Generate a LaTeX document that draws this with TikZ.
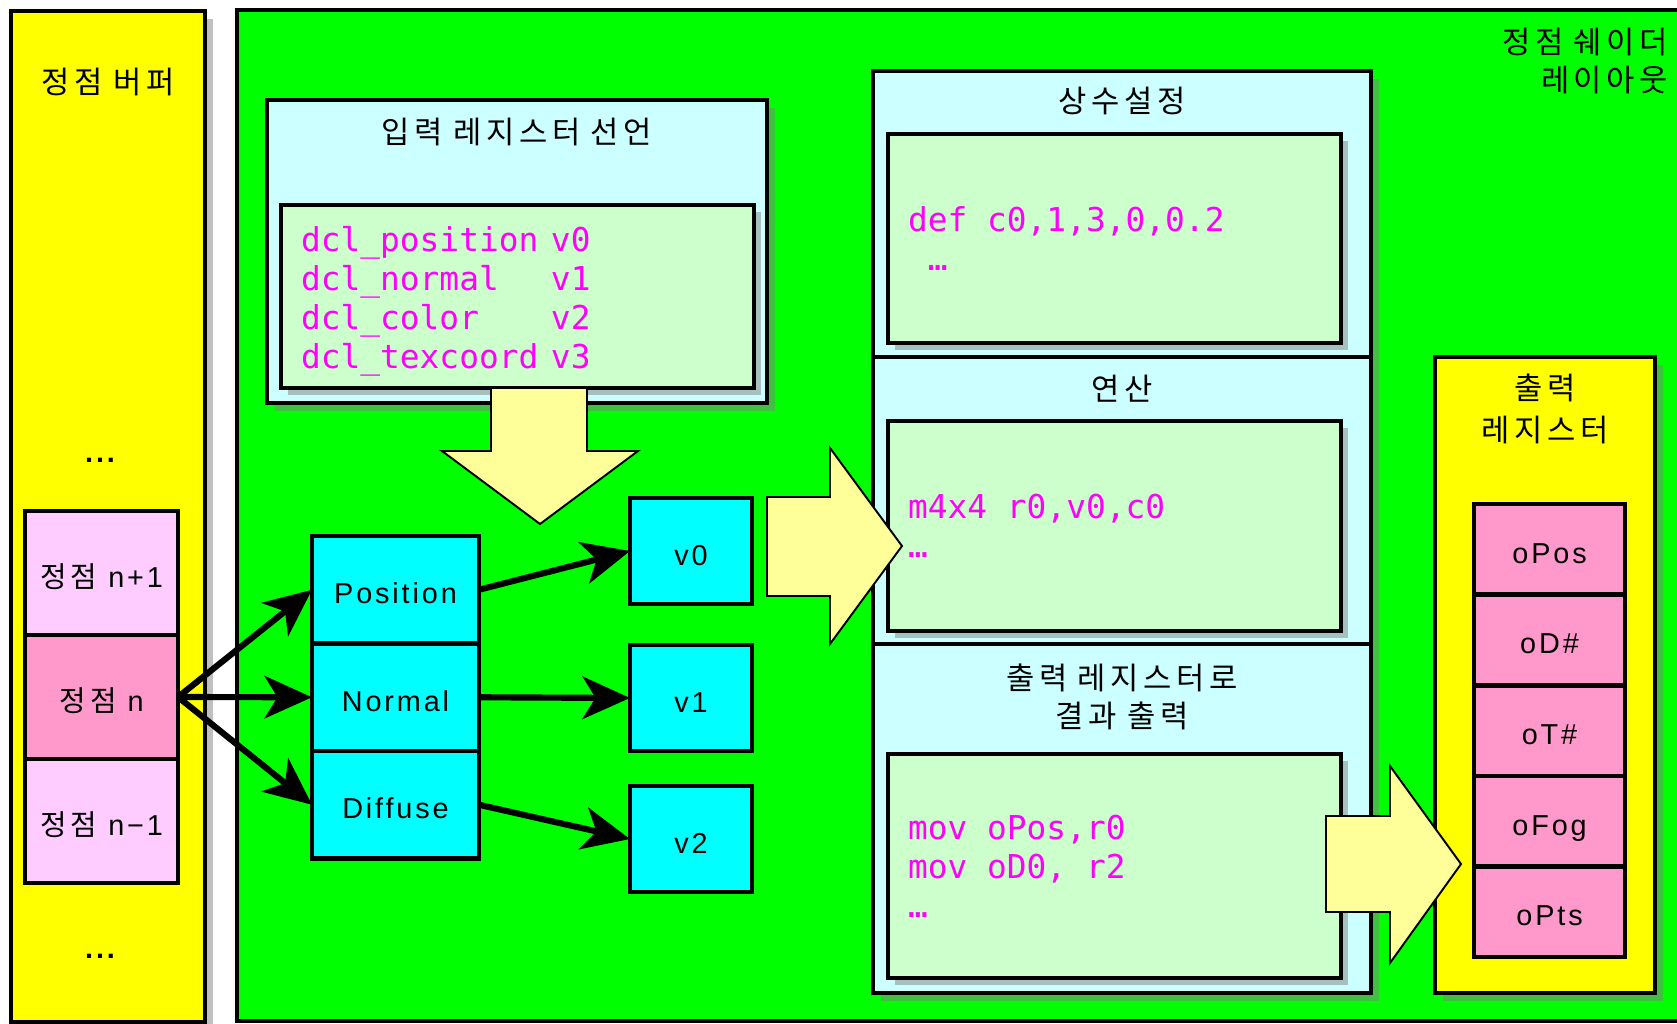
\documentclass[tikz,border=0pt]{standalone}
\usepackage{fontspec}
\setmainfont{Liberation Sans}[LetterSpace=10]
\newfontfamily\krfont{Noto Sans CJK KR}[WordSpace=1.5]
\newfontfamily\codefont{DejaVu Sans Mono}
\usetikzlibrary{positioning,shadows,arrows.meta}

% a little tracking between Hangul syllables
\XeTeXinterchartokenstate=1
\newXeTeXintercharclass\hangulclass
\count255="AC00
\loop
  \XeTeXcharclass\count255=\hangulclass
  \ifnum\count255<"D7A3 \advance\count255 by 1
\repeat
\XeTeXinterchartoks\hangulclass\hangulclass={\kern0.15em}

% one full character cell of the code font
\newcommand\cgap{\hphantom{0}}

\definecolor{vsgreen}{HTML}{00FF00}
\definecolor{bufyellow}{HTML}{FFFF00}
\definecolor{boxcyan}{HTML}{CCFFFF}
\definecolor{codegreen}{HTML}{CCFFCC}
\definecolor{regcyan}{HTML}{00FFFF}
\definecolor{vtxpink}{HTML}{FFCCFF}
\definecolor{curpink}{HTML}{FF99CC}
\definecolor{arrowfill}{HTML}{FFFF99}
\definecolor{shgreen}{HTML}{40BF40}
\definecolor{shblue}{HTML}{A6BFBF}
\definecolor{shgrey}{HTML}{C0C0C0}
\definecolor{codepink}{HTML}{FF00FF}

\begin{document}
\begin{tikzpicture}[x=0.2mm, y=-0.2mm,
  every node/.style={inner sep=0pt, outer sep=0pt},
  txt/.style={font=\fontsize{16.4}{22}\selectfont, align=center},
  ktxt/.style={align=center, font=\krfont\fontsize{17.5}{22}\selectfont},
  panel/.style={draw, line width=2.6pt},
  shadowed/.style={drop shadow={shadow xshift=1.6mm, shadow yshift=-1.6mm, fill=#1, opacity=1}},
  stage/.style={panel, fill=boxcyan, shadowed=shgreen, anchor=north west, minimum width=99.6mm},
  codebox/.style={draw, line width=2.1pt, fill=codegreen, text=codepink,
    drop shadow={shadow xshift=1.4mm, shadow yshift=-1.4mm, fill=shblue, opacity=1},
    font=\codefont\fontsize{18.7}{22.3}\selectfont, align=left, inner xsep=4mm,
    text width=82.6mm, anchor=north west},
  cell/.style={panel, txt, text height=17.6pt, text depth=1.6pt},
  vtx/.style={cell, minimum width=30.6mm, minimum height=24.8mm},
  attr/.style={cell, fill=regcyan, minimum width=33.4mm, minimum height=21.5mm},
  reg/.style={cell, fill=regcyan, minimum width=24.4mm, minimum height=21.2mm},
  oslot/.style={cell, fill=curpink, minimum width=30.2mm, minimum height=18.12mm},
  link/.style={line width=3.5pt, -{Stealth[length=9.5mm, width=8.5mm, inset=2.6mm]}},
  blockarrow/.style={draw, line width=1.1pt, fill=arrowfill, line join=miter}]

\useasboundingbox (0,0) rectangle (1677,1023);
\clip (0,0) rectangle (1677,1023);

% vertex buffer
\node[panel, fill=bufyellow, shadowed=shgrey, anchor=north west,
      minimum width=38.8mm, minimum height=202.2mm] (vb) at (11,11) {};
\node[ktxt] (vbtitle) at (108,82) {정점 버퍼};
\node[txt, anchor=base, font=\bfseries\fontsize{16.4}{22}\selectfont] (dtop) at (100,462) {...};
\node[vtx, fill=vtxpink, anchor=north west] (vnext) at (25,511) {{\krfont 정점} n+1};
\node[vtx, fill=curpink, below=0pt of vnext] (vcur) {{\krfont 정점} n};
\node[vtx, fill=vtxpink, below=0pt of vcur] (vprev) {{\krfont 정점} n−1};
\node[txt, anchor=base, font=\bfseries\fontsize{16.4}{22}\selectfont] (dbot) at (100,958) {...};

% vertex shader
\node[panel, fill=vsgreen, anchor=north west,
      minimum width=300mm, minimum height=202.2mm] (vs) at (237,10) {};
\node[ktxt, anchor=east, align=right] (vstitle) at (1668,61) {정점 쉐이더\\레이아웃};

% input declarations
\node[stage, minimum width=100mm, minimum height=60.6mm] (decl) at (267,100) {};
\node[ktxt] (decltitle) at (517,132) {입력 레지스터 선언};
\node[codebox, minimum height=36.6mm, text width=86.6mm] (declcode) at (281,205)
  {\rule{0pt}{7mm}\makebox[50mm][l]{dcl\_position}v0\\
   \makebox[50mm][l]{dcl\_normal}v1\\
   \makebox[50mm][l]{dcl\_color}v2\\
   \makebox[50mm][l]{dcl\_texcoord}v3};

\node[attr, anchor=north west] (pos) at (312,536) {Position};
\node[attr, below=0pt of pos] (nrm) {Normal};
\node[attr, below=0pt of nrm] (dif) {Diffuse};

\node[reg] (v0) at (691,551) {v0};
\node[reg] (v1) at (691,698) {v1};
\node[reg] (v2) at (691,839) {v2};

\foreach \t in {pos,nrm,dif}
  \draw[link] (vcur.east) -- (\t.west);
\draw[link] (pos.east) -- (v0.west);
\draw[link] (nrm.east) -- (v1.west);
\draw[link] (dif.east) -- (v2.west);

% shader body
\node[stage, minimum height=57.2mm] (sconst) at (873,71) {};
\node[stage, below=0pt of sconst, minimum height=57.4mm] (sops) {};
\node[stage, below=0pt of sops, minimum height=69.8mm] (sout) {};
\node[ktxt] (consttitle) at (1122,101) {상수설정};
\node[ktxt] (opstitle) at (1122,389) {연산};
\node[ktxt] (outtitle) at (1122,697) {출력 레지스터로\\결과 출력};

\node[codebox, minimum height=41.8mm] (cconst) at (888,134)
  {def\cgap c0,1,3,0,0.2\\\cgap…};
\node[codebox, minimum height=42mm] (cops) at (888,421)
  {m4x4\cgap r0,v0,c0\\…};
\node[codebox, minimum height=44.8mm] (cout) at (888,754)
  {mov\cgap oPos,r0\\mov\cgap oD0,\cgap r2\\…};

% output registers
\node[panel, fill=bufyellow, shadowed=shgreen, anchor=north west,
      minimum width=44mm, minimum height=127.2mm] (oreg) at (1435,357) {};
\node[ktxt, font=\krfont\fontsize{17.5}{23.8}\selectfont] (oregtitle) at (1545,409) {출력\\레지스터};
\node[oslot, anchor=north west] (opos) at (1474,504) {oPos};
\node[oslot, below=0pt of opos] (odif) {oD\#};
\node[oslot, below=0pt of odif] (otex) {oT\#};
\node[oslot, below=0pt of otex] (ofog) {oFog};
\node[oslot, below=0pt of ofog] (opts) {oPts};

% block arrows
\draw[blockarrow] (491,388) -- (587,388) -- (587,451) -- (638,451)
  -- (540,524) -- (442,451) -- (491,451) -- cycle;
\draw[blockarrow] (767,497) -- (830,497) -- (830,448) -- (902,546)
  -- (830,644) -- (830,596) -- (767,596) -- cycle;
\draw[blockarrow] (1326,816) -- (1390,816) -- (1390,766) -- (1461,864)
  -- (1390,963) -- (1390,912) -- (1326,912) -- cycle;
\end{tikzpicture}
\end{document}
